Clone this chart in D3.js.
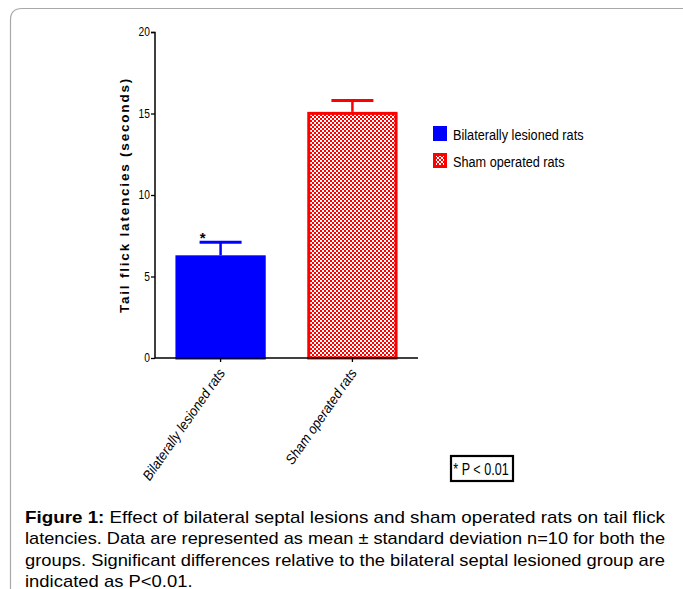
<!DOCTYPE html>
<html>
<head>
<meta charset="utf-8">
<script src="https://cdn.jsdelivr.net/npm/d3@7"></script>
<style>
  body { margin: 0; background: #fff; }
  svg { display: block; }
</style>
</head>
<body>
<svg id="chart" width="683" height="589"></svg>
<script>
// data
var groups = ["Bilaterally lesioned rats", "Sham operated rats"];
var means = [6.3, 15.1];
var sds = [0.8, 0.7];
var signif = ["*", ""];
var yTicks = [0, 5, 10, 15, 20];
var captionLines = [
  "Effect of bilateral septal lesions and sham operated rats on tail flick",
  "latencies. Data are represented as mean ± standard deviation n=10 for both the",
  "groups. Significant differences relative to the bilateral septal lesioned group are",
  "indicated as P<0.01."
];

var sans = "'Liberation Sans', Arial, sans-serif";

var svg = d3.select("#chart");

// outer frame (only top and left edges show in the crop)
svg.append("path")
    .attr("d", "M10.5,589 L10.5,20 Q10.5,8.5 22,8.5 L683,8.5")
    .attr("fill", "none")
    .attr("stroke", "#a8a8a8")
    .attr("stroke-width", 1.2);

var defs = svg.append("defs");
var pat = defs.append("pattern")
    .attr("id", "checker")
    .attr("width", 4).attr("height", 4)
    .attr("patternUnits", "userSpaceOnUse");
pat.append("rect").attr("width", 4).attr("height", 4).attr("fill", "#ff0000");
pat.append("rect").attr("x", 0).attr("y", 0).attr("width", 2).attr("height", 2).attr("fill", "#fff");
pat.append("rect").attr("x", 2).attr("y", 2).attr("width", 2).attr("height", 2).attr("fill", "#fff");

var fills = ["#0000ff", "url(#checker)"];
var strokes = ["#0000ff", "#ff0000"];

var x0 = 155, x1 = 418, y0 = 358;
var x = d3.scaleBand().domain(groups).range([x0, x1]).paddingInner(0.315).paddingOuter(0.155);
var y = d3.scaleLinear().domain([0, 20]).range([y0, 32]);

var g = svg.append("g");

// bars
g.selectAll("rect.bar")
  .data(groups)
  .enter().append("rect")
    .attr("class", "bar")
    .attr("x", (d) => x(d) + 1.5)
    .attr("y", (d, i) => y(means[i]) + 1.5)
    .attr("width", x.bandwidth() - 3)
    .attr("height", (d, i) => y0 - y(means[i]) - 1.5)
    .attr("fill", (d, i) => fills[i])
    .attr("stroke", (d, i) => strokes[i])
    .attr("stroke-width", 3);

// error bars
var err = g.selectAll("g.err").data(groups).enter().append("g").attr("class", "err");
err.append("line")
    .attr("x1", (d) => x(d) + x.bandwidth() / 2)
    .attr("x2", (d) => x(d) + x.bandwidth() / 2)
    .attr("y1", (d, i) => y(means[i]))
    .attr("y2", (d, i) => y(means[i] + sds[i]))
    .attr("stroke", (d, i) => strokes[i])
    .attr("stroke-width", 2.5);
err.append("line")
    .attr("x1", (d) => x(d) + x.bandwidth() / 2 - 21)
    .attr("x2", (d) => x(d) + x.bandwidth() / 2 + 21)
    .attr("y1", (d, i) => y(means[i] + sds[i]))
    .attr("y2", (d, i) => y(means[i] + sds[i]))
    .attr("stroke", (d, i) => strokes[i])
    .attr("stroke-width", 3);
err.append("text")
    .attr("x", (d) => x(d) + x.bandwidth() / 2 - 18)
    .attr("y", (d, i) => y(means[i] + sds[i]) + 1)
    .attr("text-anchor", "middle")
    .style("font", "bold 15px " + sans)
    .text((d, i) => signif[i]);

// y axis
var yAxis = g.append("g")
    .attr("transform", "translate(" + x0 + ",0)")
    .call(d3.axisLeft(y).tickValues(yTicks).tickSize(4).tickPadding(2).tickFormat(d3.format("d")));
yAxis.select(".domain").attr("stroke", "#000").attr("stroke-width", 1.5).attr("d", "M-4,32.5H0V" + y0);
yAxis.selectAll(".tick line").attr("stroke-width", 1.3);
yAxis.selectAll("text")
    .attr("transform", "scale(0.85,1)")
    .style("font", "12px " + sans).attr("fill", "#000");

// x axis
var xAxis = g.append("g")
    .attr("transform", "translate(0," + y0 + ")")
    .call(d3.axisBottom(x).tickSize(4).tickFormat(""));
xAxis.select(".domain").attr("stroke", "#000").attr("stroke-width", 1.5).attr("d", "M" + x0 + ",0H" + x1);
xAxis.selectAll(".tick line").attr("stroke-width", 1.3);

g.selectAll("text.cat")
  .data(groups)
  .enter().append("text")
    .attr("class", "cat")
    .attr("text-anchor", "end")
    .attr("transform", (d) => "translate(" + (x(d) + x.bandwidth() / 2 + 5) + "," + (y0 + 15) + ") rotate(-55) scale(0.92,1)")
    .style("font", "italic 14px " + sans)
    .text((d) => d);

// y title
svg.append("text")
    .attr("transform", "translate(129,195) rotate(-90)")
    .attr("text-anchor", "middle")
    .style("font", "bold 13.5px " + sans)
    .style("letter-spacing", "1.8px")
    .text("Tail flick latencies (seconds)");

// legend
var leg = svg.selectAll("g.leg").data(groups).enter().append("g")
    .attr("class", "leg")
    .attr("transform", (d, i) => "translate(433," + (126 + i * 27) + ")");
leg.append("rect")
    .attr("width", 14).attr("height", 15)
    .attr("fill", (d, i) => i === 0 ? fills[i] : "#ff0000");
leg.filter((d, i) => i === 1).append("rect")
    .attr("x", 3).attr("y", 3).attr("width", 8).attr("height", 9)
    .attr("fill", "url(#checker)");
leg.append("text")
    .attr("transform", "translate(20,14) scale(0.82,1)")
    .style("font", "15.5px " + sans)
    .text((d) => d);

// significance box
svg.append("rect")
    .attr("x", 451).attr("y", 456).attr("width", 62).attr("height", 25)
    .attr("fill", "#fff").attr("stroke", "#000").attr("stroke-width", 2.2);
svg.append("text")
    .attr("transform", "translate(481,475) scale(0.74,1)")
    .attr("text-anchor", "middle")
    .style("font", "17px " + sans)
    .text("* P < 0.01");

// caption, justified by squeezing glyphs to the column width
var cap = svg.append("g").style("font", "17px " + sans).attr("fill", "#000");
var texts = captionLines.map(function (line, i) {
  var t = cap.append("text").attr("x", 25).attr("y", 523 + i * 21.3);
  if (i === 0) {
    t.append("tspan").style("font-weight", "bold").text("Figure 1: ");
  }
  t.append("tspan").text(line);
  return t;
});
var ratios = [];
texts.forEach(function (t, i) {
  if (i < texts.length - 1) {
    ratios.push(640 / t.node().getComputedTextLength());
    t.attr("textLength", 640).attr("lengthAdjust", "spacingAndGlyphs");
  }
});
var last = texts[texts.length - 1];
last.attr("textLength", last.node().getComputedTextLength() * d3.mean(ratios))
    .attr("lengthAdjust", "spacingAndGlyphs");
</script>
</body>
</html>
